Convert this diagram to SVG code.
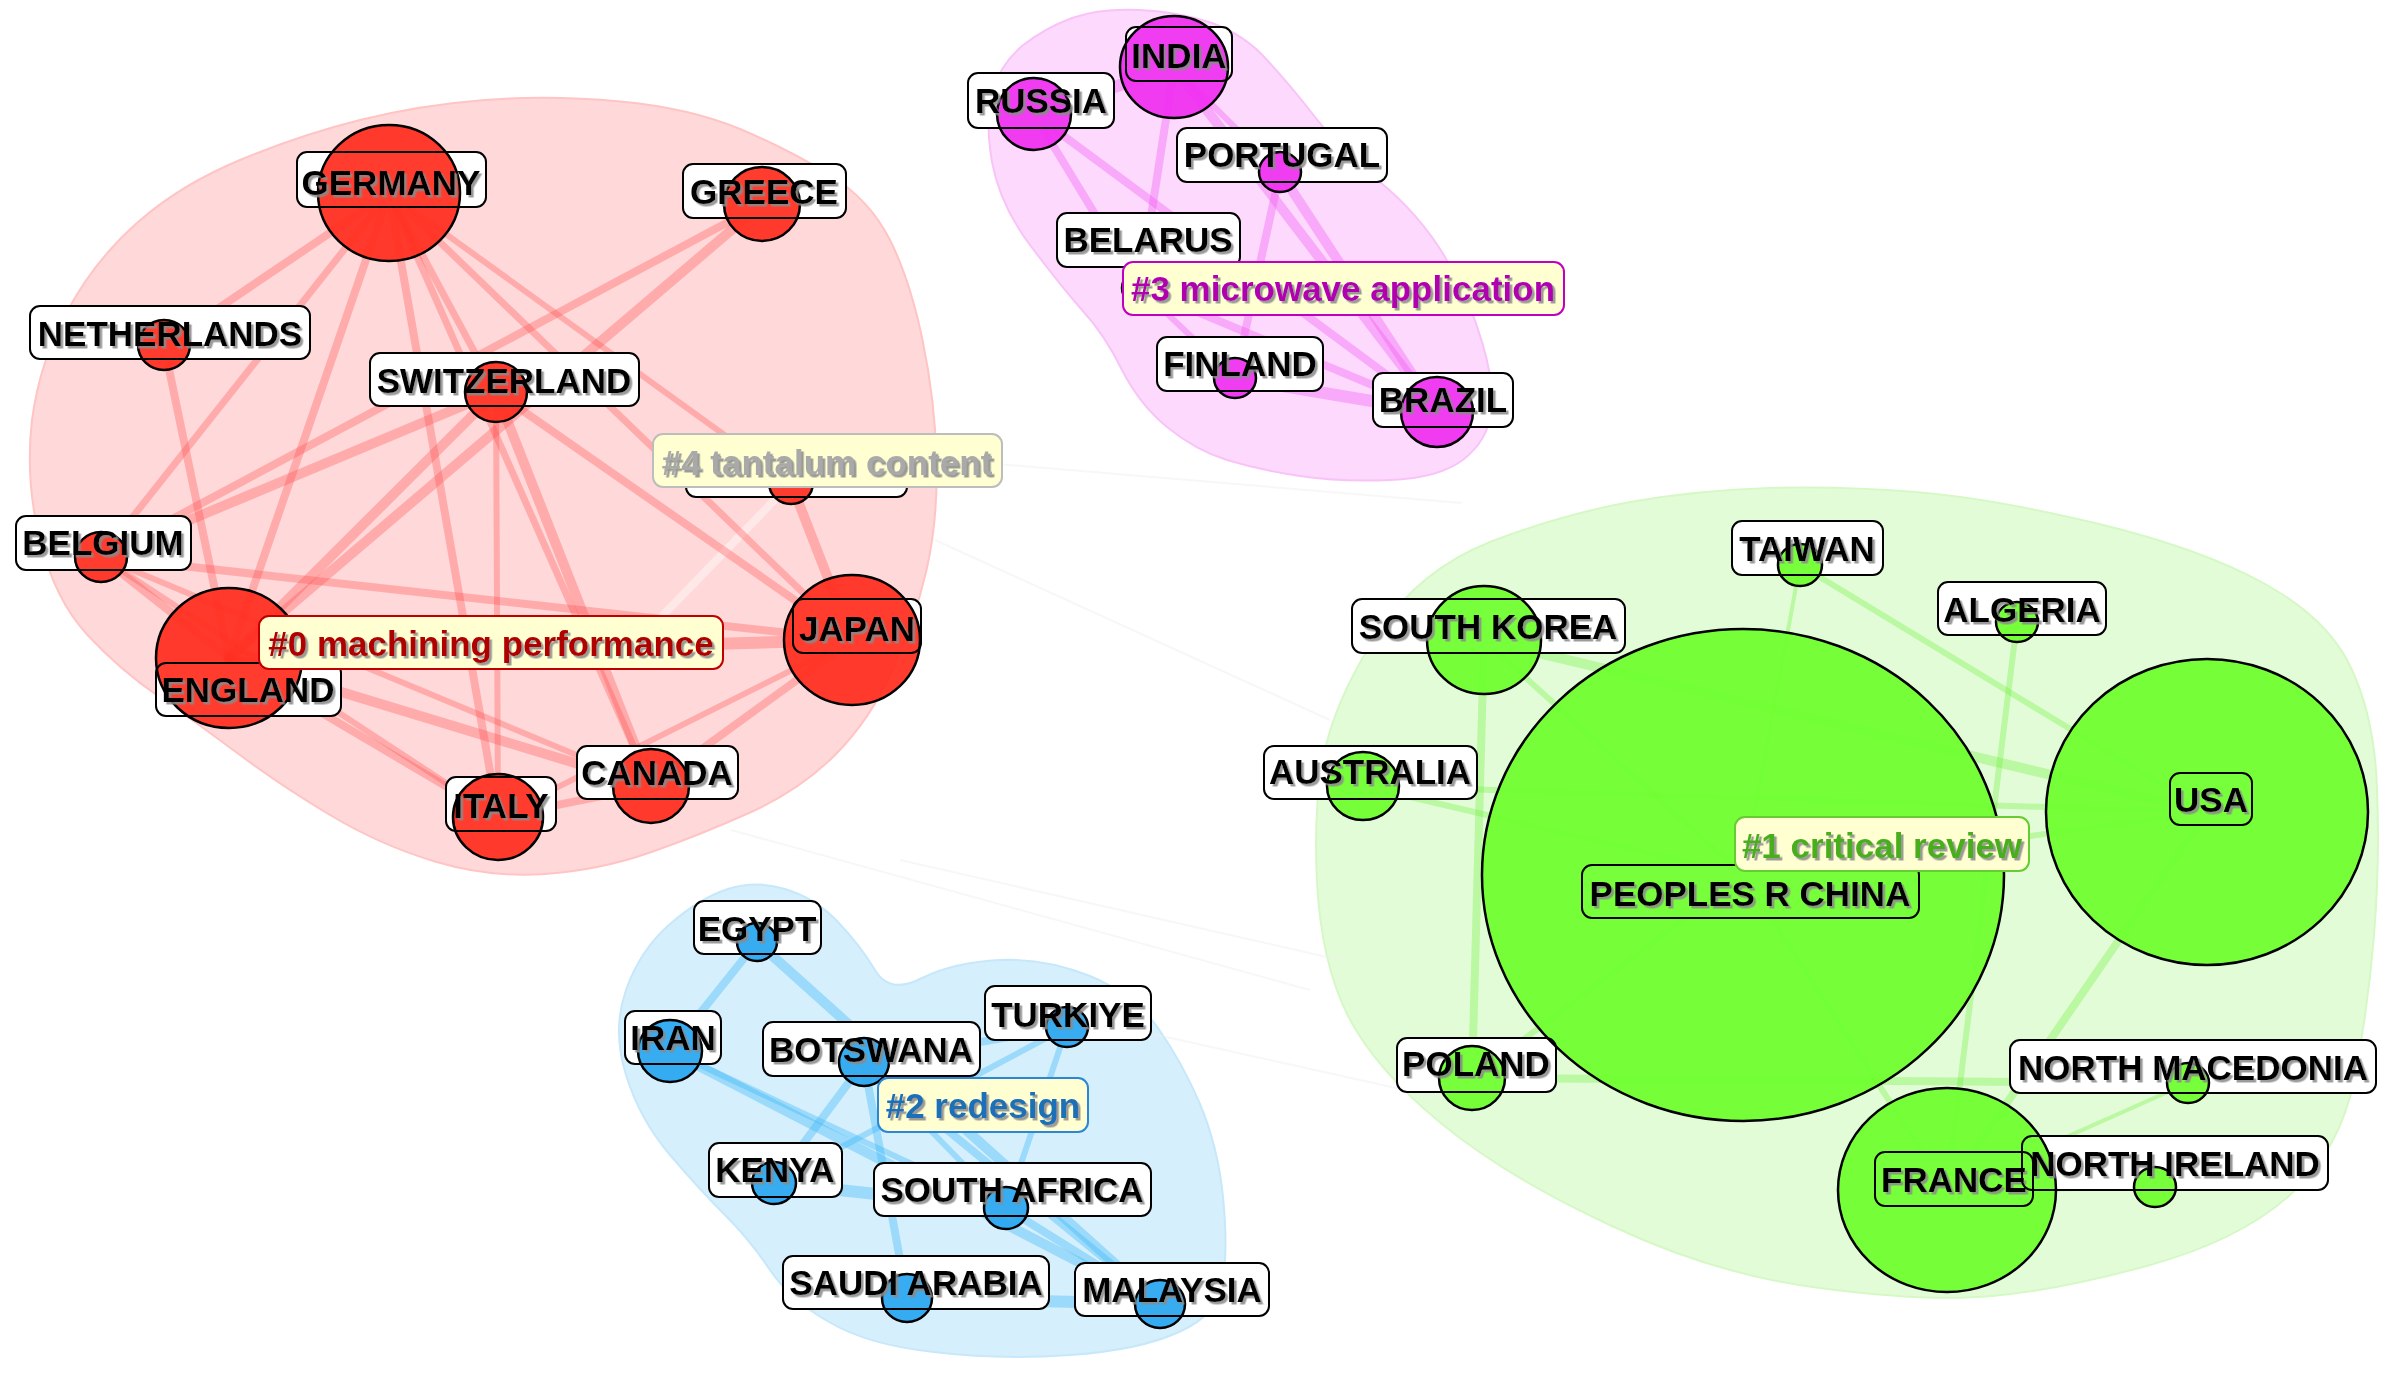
<svg xmlns="http://www.w3.org/2000/svg" width="2388" height="1399" viewBox="0 0 2388 1399">
<defs>
<filter id="sh" x="-5%" y="-20%" width="110%" height="140%"><feDropShadow dx="2.5" dy="2.5" stdDeviation="0.6" flood-color="#8a8a8a" flood-opacity="0.85"/></filter>
<style>
.hull-r{fill:#ffd9d9;stroke:#ffc4c4;stroke-width:2}
.hull-p{fill:#fdd9fd;stroke:#f8c4f8;stroke-width:2}
.hull-b{fill:#d6effc;stroke:#c6e8fa;stroke-width:2}
.hull-g{fill:#e3fcd8;stroke:#d6f8c6;stroke-width:2}
.er line{stroke:#ff4a4a;stroke-opacity:0.32;stroke-linecap:round}
.ep line{stroke:#f050f0;stroke-opacity:0.35;stroke-linecap:round}
.eb line{stroke:#3cb8f8;stroke-opacity:0.38;stroke-linecap:round}
.eg line{stroke:#66ee33;stroke-opacity:0.32;stroke-linecap:round}
.ex line{stroke:#eeeeee;stroke-opacity:0.45;stroke-width:2}
.bg{fill:#ffffff}
.bd{fill:none;stroke:#000;stroke-width:2}
.nr{fill:#ff2d1e;fill-opacity:0.93;stroke:#000;stroke-width:2.5}
.np{fill:#f02ef0;fill-opacity:0.93;stroke:#000;stroke-width:2.5}
.nb{fill:#29a6f0;fill-opacity:0.93;stroke:#000;stroke-width:2.5}
.ng{fill:#6eff2c;fill-opacity:0.93;stroke:#000;stroke-width:2.5}
.t{font-family:"Liberation Sans",Arial,sans-serif;font-weight:bold;font-size:35px;fill:#000;text-anchor:middle;filter:url(#sh)}
.cl{fill:#ffffd2;stroke-width:2}
</style>
</defs>
<rect width="2388" height="1399" fill="#fff"/>

<g id="hulls">
<path class="hull-r" d="M485,100 Q550,95 620,101.5 Q690,108 740,129 Q790,150 830,175 Q870,200 890,240 Q910,280 922.5,340 Q935,400 936.5,460 Q938,520 926.5,570 Q915,620 892.5,670 Q870,720 835,755 Q800,790 750,812.5 Q700,835 650,852.5 Q600,870 545,874 Q490,878 435,861.5 Q380,845 330,815 Q280,785 240,755 Q200,725 160,697.5 Q120,670 87.5,635 Q55,600 40,540 Q25,480 32,420 Q40,360 68,310 Q95,260 137.5,222.5 Q180,185 240,160 Q300,135 360,120 Q420,105 485,100 Z"/>
<path class="hull-p" d="M1140,10 Q1180,12 1212,23 Q1245,35 1267,60 Q1290,85 1315,117 Q1340,150 1380,182 Q1420,215 1445,257 Q1470,300 1482,342 Q1495,385 1491,412 Q1488,440 1464,459 Q1440,478 1390,480 Q1340,482 1300,476 Q1260,470 1227,460 Q1195,450 1167,427 Q1140,405 1122,370 Q1105,335 1082,310 Q1060,285 1030,245 Q1000,205 992,162 Q985,120 992,92 Q1000,65 1022,46 Q1045,28 1072,18 Q1100,8 1140,10 Z"/>
<path class="hull-b" d="M785,889 Q815,898 837,921 Q860,945 875,970 Q890,995 922,978 Q955,962 1000,960 Q1045,958 1090,976 Q1135,995 1158,1028 Q1182,1062 1200,1104 Q1218,1147 1223,1197 Q1228,1247 1223,1281 Q1218,1315 1179,1332 Q1140,1350 1070,1355 Q1000,1360 934,1352 Q868,1345 829,1322 Q790,1300 770,1270 Q750,1240 725,1215 Q700,1190 670,1155 Q640,1120 626,1075 Q612,1030 626,990 Q640,950 670,924 Q700,898 728,889 Q756,880 785,889 Z"/>
<path class="hull-g" d="M1770,488 Q1840,486 1915,492 Q1990,498 2095,523 Q2200,548 2265,584 Q2330,620 2352,670 Q2375,720 2377,790 Q2380,860 2374,935 Q2368,1010 2354,1080 Q2340,1150 2290,1195 Q2240,1240 2150,1265 Q2060,1290 1992,1296 Q1925,1302 1820,1288 Q1716,1275 1612,1226 Q1508,1178 1442,1124 Q1376,1070 1348,1016 Q1321,962 1317,881 Q1313,800 1326,745 Q1340,690 1380,630 Q1420,570 1490,542 Q1560,515 1630,502 Q1700,490 1770,488 Z"/>
</g>

<g id="connectors">
<g class="ex">
<line x1="914" y1="457" x2="1462" y2="503"/>
<line x1="731" y1="830" x2="1310" y2="990"/>
<line x1="935" y1="540" x2="1330" y2="720"/>
<line x1="1000" y1="1000" x2="1450" y2="1100"/>
<line x1="900" y1="860" x2="1340" y2="960"/>
</g>
<line x1="791" y1="483" x2="610" y2="670" stroke="#ffffff" stroke-opacity="0.4" stroke-width="8"/>
<g class="er">
<line x1="389" y1="193" x2="164" y2="345" stroke-width="8"/>
<line x1="389" y1="193" x2="101" y2="557" stroke-width="7"/>
<line x1="389" y1="193" x2="229" y2="658" stroke-width="8"/>
<line x1="389" y1="193" x2="498" y2="817" stroke-width="8"/>
<line x1="389" y1="193" x2="496" y2="392" stroke-width="7"/>
<line x1="389" y1="193" x2="651" y2="786" stroke-width="7"/>
<line x1="389" y1="193" x2="852" y2="640" stroke-width="7"/>
<line x1="389" y1="193" x2="791" y2="483" stroke-width="6"/>
<line x1="762" y1="204" x2="101" y2="557" stroke-width="8"/>
<line x1="762" y1="204" x2="229" y2="658" stroke-width="10"/>
<line x1="164" y1="345" x2="229" y2="658" stroke-width="8"/>
<line x1="496" y1="392" x2="101" y2="557" stroke-width="10"/>
<line x1="496" y1="392" x2="229" y2="658" stroke-width="10"/>
<line x1="496" y1="392" x2="498" y2="817" stroke-width="6"/>
<line x1="496" y1="392" x2="651" y2="786" stroke-width="10"/>
<line x1="496" y1="392" x2="852" y2="640" stroke-width="8"/>
<line x1="101" y1="557" x2="229" y2="658" stroke-width="8"/>
<line x1="101" y1="557" x2="852" y2="640" stroke-width="8"/>
<line x1="101" y1="557" x2="498" y2="817" stroke-width="6"/>
<line x1="101" y1="557" x2="651" y2="786" stroke-width="6"/>
<line x1="229" y1="658" x2="852" y2="640" stroke-width="12"/>
<line x1="229" y1="658" x2="651" y2="786" stroke-width="10"/>
<line x1="229" y1="658" x2="498" y2="817" stroke-width="8"/>
<line x1="498" y1="817" x2="651" y2="786" stroke-width="8"/>
<line x1="498" y1="817" x2="852" y2="640" stroke-width="6"/>
<line x1="651" y1="786" x2="852" y2="640" stroke-width="8"/>
<line x1="791" y1="483" x2="852" y2="640" stroke-width="10"/>
</g>
<g class="ep">
<line x1="1034" y1="114" x2="1174" y2="67" stroke-width="12"/>
<line x1="1034" y1="114" x2="1140" y2="288" stroke-width="8"/>
<line x1="1034" y1="114" x2="1437" y2="412" stroke-width="8"/>
<line x1="1174" y1="67" x2="1140" y2="288" stroke-width="8"/>
<line x1="1174" y1="67" x2="1437" y2="412" stroke-width="10"/>
<line x1="1174" y1="67" x2="1280" y2="172" stroke-width="6"/>
<line x1="1280" y1="172" x2="1235" y2="378" stroke-width="8"/>
<line x1="1280" y1="172" x2="1437" y2="412" stroke-width="10"/>
<line x1="1140" y1="288" x2="1437" y2="412" stroke-width="8"/>
<line x1="1235" y1="378" x2="1437" y2="412" stroke-width="12"/>
<line x1="1140" y1="288" x2="1235" y2="378" stroke-width="6"/>
</g>
<g class="eb">
<line x1="757" y1="942" x2="670" y2="1051" stroke-width="8"/>
<line x1="757" y1="942" x2="1160" y2="1304" stroke-width="10"/>
<line x1="670" y1="1051" x2="1160" y2="1304" stroke-width="10"/>
<line x1="670" y1="1051" x2="1006" y2="1208" stroke-width="6"/>
<line x1="864" y1="1062" x2="1067" y2="1027" stroke-width="8"/>
<line x1="864" y1="1062" x2="774" y2="1183" stroke-width="8"/>
<line x1="774" y1="1183" x2="1067" y2="1027" stroke-width="6"/>
<line x1="774" y1="1183" x2="1006" y2="1208" stroke-width="12"/>
<line x1="864" y1="1062" x2="1160" y2="1304" stroke-width="8"/>
<line x1="1006" y1="1208" x2="1160" y2="1304" stroke-width="8"/>
<line x1="1006" y1="1208" x2="1067" y2="1027" stroke-width="6"/>
<line x1="907" y1="1298" x2="1160" y2="1304" stroke-width="12"/>
<line x1="864" y1="1062" x2="907" y2="1298" stroke-width="8"/>
<line x1="864" y1="1062" x2="1006" y2="1208" stroke-width="6"/>
</g>
<g class="eg">
<line x1="1484" y1="640" x2="2207" y2="812" stroke-width="10"/>
<line x1="1484" y1="640" x2="1743" y2="875" stroke-width="6"/>
<line x1="1484" y1="640" x2="1472" y2="1078" stroke-width="8"/>
<line x1="1800" y1="565" x2="2207" y2="812" stroke-width="6"/>
<line x1="2017" y1="622" x2="1947" y2="1190" stroke-width="6"/>
<line x1="1363" y1="786" x2="2207" y2="812" stroke-width="6"/>
<line x1="1363" y1="786" x2="1743" y2="875" stroke-width="6"/>
<line x1="1472" y1="1078" x2="2188" y2="1083" stroke-width="8"/>
<line x1="2207" y1="812" x2="1947" y2="1190" stroke-width="8"/>
<line x1="1743" y1="875" x2="1947" y2="1190" stroke-width="6"/>
<line x1="1947" y1="1190" x2="2155" y2="1187" stroke-width="6"/>
<line x1="1743" y1="875" x2="2207" y2="812" stroke-width="6"/>
<line x1="1472" y1="1078" x2="1743" y2="875" stroke-width="6"/>
<line x1="1947" y1="1190" x2="2188" y2="1083" stroke-width="4"/>
<line x1="1800" y1="565" x2="1743" y2="875" stroke-width="4"/>
</g>
</g>

<g id="label-backgrounds" class="bg">
<rect x="297" y="152" width="189" height="55" rx="10"/>
<rect x="683" y="164" width="163" height="54" rx="10"/>
<rect x="30" y="306" width="280" height="53" rx="10"/>
<rect x="370" y="353" width="269" height="53" rx="10"/>
<rect x="686" y="443" width="221" height="54" rx="10"/>
<rect x="16" y="516" width="175" height="54" rx="10"/>
<rect x="156" y="663" width="185" height="53" rx="10"/>
<rect x="793" y="599" width="128" height="54" rx="10"/>
<rect x="577" y="746" width="161" height="53" rx="10"/>
<rect x="446" y="777" width="110" height="54" rx="10"/>
<rect x="1126" y="27" width="106" height="54" rx="10"/>
<rect x="968" y="73" width="146" height="55" rx="10"/>
<rect x="1177" y="128" width="210" height="54" rx="10"/>
<rect x="1057" y="213" width="183" height="54" rx="10"/>
<rect x="1157" y="337" width="166" height="54" rx="10"/>
<rect x="1373" y="373" width="140" height="54" rx="10"/>
<rect x="694" y="901" width="127" height="53" rx="10"/>
<rect x="625" y="1011" width="96" height="53" rx="10"/>
<rect x="763" y="1022" width="217" height="54" rx="10"/>
<rect x="985" y="986" width="166" height="54" rx="10"/>
<rect x="709" y="1143" width="133" height="54" rx="10"/>
<rect x="874" y="1163" width="277" height="53" rx="10"/>
<rect x="783" y="1256" width="266" height="53" rx="10"/>
<rect x="1075" y="1263" width="194" height="53" rx="10"/>
<rect x="1732" y="521" width="151" height="54" rx="10"/>
<rect x="1938" y="582" width="168" height="53" rx="10"/>
<rect x="1352" y="599" width="273" height="54" rx="10"/>
<rect x="1264" y="746" width="213" height="53" rx="10"/>
<rect x="1582" y="865" width="337" height="53" rx="10"/>
<rect x="2170" y="773" width="82" height="52" rx="10"/>
<rect x="1397" y="1038" width="159" height="54" rx="10"/>
<rect x="2010" y="1040" width="366" height="53" rx="10"/>
<rect x="1875" y="1152" width="158" height="54" rx="10"/>
<rect x="2022" y="1136" width="306" height="54" rx="10"/>
</g>

<g id="nodes">
<g id="node-germany"><ellipse class="nr" cx="389" cy="193" rx="71" ry="68"/><rect class="bd" x="297" y="152" width="189" height="55" rx="10"/><text class="t" x="391" y="195">GERMANY</text></g>
<g id="node-greece"><ellipse class="nr" cx="762" cy="204" rx="38" ry="37"/><rect class="bd" x="683" y="164" width="163" height="54" rx="10"/><text class="t" x="764" y="204">GREECE</text></g>
<g id="node-netherlands"><ellipse class="nr" cx="164" cy="345" rx="26" ry="25"/><rect class="bd" x="30" y="306" width="280" height="53" rx="10"/><text class="t" x="170" y="346">NETHERLANDS</text></g>
<g id="node-switzerland"><ellipse class="nr" cx="496" cy="392" rx="31" ry="30"/><rect class="bd" x="370" y="353" width="269" height="53" rx="10"/><text class="t" x="504" y="393">SWITZERLAND</text></g>
<g id="node-hidden-4"><ellipse class="nr" cx="791" cy="483" rx="22" ry="21"/><rect class="bd" x="686" y="443" width="221" height="54" rx="10"/></g>
<g id="node-belgium"><ellipse class="nr" cx="101" cy="557" rx="26" ry="25"/><rect class="bd" x="16" y="516" width="175" height="54" rx="10"/><text class="t" x="103" y="555">BELGIUM</text></g>
<g id="node-england"><ellipse class="nr" cx="229" cy="658" rx="73" ry="70"/><rect class="bd" x="156" y="663" width="185" height="53" rx="10"/><text class="t" x="248" y="702">ENGLAND</text></g>
<g id="node-japan"><ellipse class="nr" cx="852" cy="640" rx="68" ry="65"/><rect class="bd" x="793" y="599" width="128" height="54" rx="10"/><text class="t" x="857" y="641">JAPAN</text></g>
<g id="node-canada"><ellipse class="nr" cx="651" cy="786" rx="38" ry="37"/><rect class="bd" x="577" y="746" width="161" height="53" rx="10"/><text class="t" x="657" y="785">CANADA</text></g>
<g id="node-italy"><ellipse class="nr" cx="498" cy="817" rx="45" ry="43"/><rect class="bd" x="446" y="777" width="110" height="54" rx="10"/><text class="t" x="501" y="818">ITALY</text></g>

<g id="node-india"><ellipse class="np" cx="1174" cy="67" rx="54" ry="51"/><rect class="bd" x="1126" y="27" width="106" height="54" rx="10"/><text class="t" x="1179" y="68">INDIA</text></g>
<g id="node-russia"><ellipse class="np" cx="1034" cy="114" rx="37" ry="36"/><rect class="bd" x="968" y="73" width="146" height="55" rx="10"/><text class="t" x="1041" y="113">RUSSIA</text></g>
<g id="node-portugal"><ellipse class="np" cx="1280" cy="172" rx="21" ry="20"/><rect class="bd" x="1177" y="128" width="210" height="54" rx="10"/><text class="t" x="1282" y="167">PORTUGAL</text></g>
<g id="node-belarus"><ellipse class="np" cx="1140" cy="288" rx="18" ry="17"/><rect class="bd" x="1057" y="213" width="183" height="54" rx="10"/><text class="t" x="1148" y="252">BELARUS</text></g>
<g id="node-finland"><ellipse class="np" cx="1235" cy="378" rx="21" ry="20"/><rect class="bd" x="1157" y="337" width="166" height="54" rx="10"/><text class="t" x="1240" y="376">FINLAND</text></g>
<g id="node-brazil"><ellipse class="np" cx="1437" cy="412" rx="36" ry="35"/><rect class="bd" x="1373" y="373" width="140" height="54" rx="10"/><text class="t" x="1443" y="412">BRAZIL</text></g>

<g id="node-egypt"><ellipse class="nb" cx="757" cy="942" rx="20" ry="19"/><rect class="bd" x="694" y="901" width="127" height="53" rx="10"/><text class="t" x="757" y="941">EGYPT</text></g>
<g id="node-iran"><ellipse class="nb" cx="670" cy="1051" rx="32" ry="31"/><rect class="bd" x="625" y="1011" width="96" height="53" rx="10"/><text class="t" x="673" y="1050">IRAN</text></g>
<g id="node-botswana"><ellipse class="nb" cx="864" cy="1062" rx="25" ry="24"/><rect class="bd" x="763" y="1022" width="217" height="54" rx="10"/><text class="t" x="871" y="1062">BOTSWANA</text></g>
<g id="node-turkiye"><ellipse class="nb" cx="1067" cy="1027" rx="21" ry="20"/><rect class="bd" x="985" y="986" width="166" height="54" rx="10"/><text class="t" x="1068" y="1027">TURKIYE</text></g>
<g id="node-kenya"><ellipse class="nb" cx="774" cy="1183" rx="22" ry="21"/><rect class="bd" x="709" y="1143" width="133" height="54" rx="10"/><text class="t" x="775" y="1182">KENYA</text></g>
<g id="node-south-africa"><ellipse class="nb" cx="1006" cy="1208" rx="22" ry="21"/><rect class="bd" x="874" y="1163" width="277" height="53" rx="10"/><text class="t" x="1012" y="1202">SOUTH AFRICA</text></g>
<g id="node-saudi-arabia"><ellipse class="nb" cx="907" cy="1298" rx="25" ry="24"/><rect class="bd" x="783" y="1256" width="266" height="53" rx="10"/><text class="t" x="916" y="1295">SAUDI ARABIA</text></g>
<g id="node-malaysia"><ellipse class="nb" cx="1160" cy="1304" rx="25" ry="24"/><rect class="bd" x="1075" y="1263" width="194" height="53" rx="10"/><text class="t" x="1172" y="1302">MALAYSIA</text></g>

<g id="node-peoples-r-china"><ellipse class="ng" cx="1743" cy="875" rx="261" ry="246"/><rect class="bd" x="1582" y="865" width="337" height="53" rx="10"/><text class="t" x="1750" y="906">PEOPLES R CHINA</text></g>
<g id="node-usa"><ellipse class="ng" cx="2207" cy="812" rx="161" ry="153"/><rect class="bd" x="2170" y="773" width="82" height="52" rx="10"/><text class="t" x="2211" y="812">USA</text></g>
<g id="node-france"><ellipse class="ng" cx="1947" cy="1190" rx="109" ry="102"/><rect class="bd" x="1875" y="1152" width="158" height="54" rx="10"/><text class="t" x="1954" y="1192">FRANCE</text></g>
<g id="node-taiwan"><ellipse class="ng" cx="1800" cy="565" rx="22" ry="21"/><rect class="bd" x="1732" y="521" width="151" height="54" rx="10"/><text class="t" x="1807" y="561">TAIWAN</text></g>
<g id="node-algeria"><ellipse class="ng" cx="2017" cy="622" rx="21" ry="20"/><rect class="bd" x="1938" y="582" width="168" height="53" rx="10"/><text class="t" x="2022" y="622">ALGERIA</text></g>
<g id="node-south-korea"><ellipse class="ng" cx="1484" cy="640" rx="57" ry="54"/><rect class="bd" x="1352" y="599" width="273" height="54" rx="10"/><text class="t" x="1488" y="639">SOUTH KOREA</text></g>
<g id="node-australia"><ellipse class="ng" cx="1363" cy="786" rx="36" ry="34"/><rect class="bd" x="1264" y="746" width="213" height="53" rx="10"/><text class="t" x="1370" y="784">AUSTRALIA</text></g>
<g id="node-poland"><ellipse class="ng" cx="1472" cy="1078" rx="33" ry="32"/><rect class="bd" x="1397" y="1038" width="159" height="54" rx="10"/><text class="t" x="1476" y="1076">POLAND</text></g>
<g id="node-north-macedonia"><ellipse class="ng" cx="2188" cy="1083" rx="21" ry="20"/><rect class="bd" x="2010" y="1040" width="366" height="53" rx="10"/><text class="t" x="2193" y="1080">NORTH MACEDONIA</text></g>
<g id="node-north-ireland"><ellipse class="ng" cx="2155" cy="1187" rx="21" ry="20"/><rect class="bd" x="2022" y="1136" width="306" height="54" rx="10"/><text class="t" x="2175" y="1176">NORTH IRELAND</text></g>
</g>

<g id="cluster-labels">
<g id="cluster-0"><rect class="cl" x="259" y="616" width="464" height="53" rx="10" stroke="#c00000"/><text class="t" x="491" y="656" style="fill:#b00000">#0 machining performance</text></g>
<g id="cluster-4"><rect class="cl" x="653" y="434" width="349" height="53" rx="10" stroke="#bdbdbd"/><text class="t" x="827" y="475" style="fill:#a9a9a9">#4 tantalum content</text></g>
<g id="cluster-3"><rect class="cl" x="1123" y="262" width="441" height="53" rx="10" stroke="#c000c0"/><text class="t" x="1343" y="301" style="fill:#b000b0">#3 microwave application</text></g>
<g id="cluster-2"><rect class="cl" x="878" y="1078" width="210" height="54" rx="10" stroke="#2a86d6"/><text class="t" x="983" y="1118" style="fill:#1a6fb8">#2 redesign</text></g>
<g id="cluster-1"><rect class="cl" x="1735" y="817" width="294" height="54" rx="10" stroke="#66cc33"/><text class="t" x="1882" y="858" style="fill:#4aae1c">#1 critical review</text></g>
</g>
</svg>
